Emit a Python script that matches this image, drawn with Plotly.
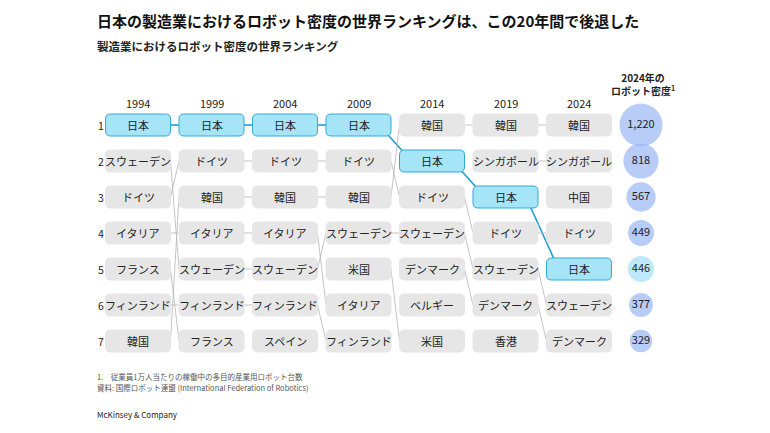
import plotly.graph_objects as go
import math

years = ["1994", "1999", "2004", "2009", "2014", "2019", "2024"]
rankings = [
    ["日本", "スウェーデン", "ドイツ", "イタリア", "フランス", "フィンランド", "韓国"],
    ["日本", "ドイツ", "韓国", "イタリア", "スウェーデン", "フィンランド", "フランス"],
    ["日本", "ドイツ", "韓国", "イタリア", "スウェーデン", "フィンランド", "スペイン"],
    ["日本", "ドイツ", "韓国", "スウェーデン", "米国", "イタリア", "フィンランド"],
    ["韓国", "日本", "ドイツ", "スウェーデン", "デンマーク", "ベルギー", "米国"],
    ["韓国", "シンガポール", "日本", "ドイツ", "スウェーデン", "デンマーク", "香港"],
    ["韓国", "シンガポール", "中国", "ドイツ", "日本", "スウェーデン", "デンマーク"],
]
density_2024 = [1220, 818, 567, 449, 446, 377, 329]
highlight = "日本"

FONT = "Noto Sans CJK JP"
X0, DX = 138, 73.5
Y0, DY = 125, 36
BW, BH = 65, 22
BX = 641
OFF = 8  # page body margin

def cx(i): return X0 + i * DX
def cy(r): return Y0 + r * DY

def rrect(x0, y0, x1, y1, r=5):
    return (f"M{x0+r},{y0} L{x1-r},{y0} Q{x1},{y0} {x1},{y0+r} L{x1},{y1-r} Q{x1},{y1} {x1-r},{y1} "
            f"L{x0+r},{y1} Q{x0},{y1} {x0},{y1-r} L{x0},{y0+r} Q{x0},{y0} {x0+r},{y0} Z")

shapes, ann = [], []
for i in range(len(years) - 1):
    for r, c in enumerate(rankings[i]):
        if c in rankings[i + 1]:
            r2 = rankings[i + 1].index(c)
            if c == highlight:
                if r2 == r:
                    x_a, x_b = cx(i) + BW / 2, cx(i + 1) - BW / 2
                else:
                    x_a, x_b = cx(i) + BW / 2 - 12, cx(i + 1) - BW / 2 + 12
                shapes.append(dict(type="line", x0=x_a, y0=cy(r), x1=x_b, y1=cy(r2),
                                   line=dict(color="#1aa0d2", width=1.6), layer="below"))
            else:
                shapes.append(dict(type="line", x0=cx(i) + BW / 2, y0=cy(r), x1=cx(i + 1) - BW / 2, y1=cy(r2),
                                   line=dict(color="#b5b5b5", width=0.8), layer="below"))
for i, col in enumerate(rankings):
    ann.append(dict(x=cx(i), y=103, text=years[i], showarrow=False, font=dict(size=11, color="#222")))
    for r, c in enumerate(col):
        hl = c == highlight
        shapes.append(dict(type="path", path=rrect(cx(i) - BW / 2, cy(r) - BH / 2, cx(i) + BW / 2, cy(r) + BH / 2),
                           fillcolor="#a6e4f7" if hl else "#e6e6e6",
                           line=dict(color="#34a9d6" if hl else "#e6e6e6", width=1), layer="above"))
        ann.append(dict(x=cx(i), y=cy(r), text=c, showarrow=False, font=dict(size=11, color="#222")))
for r in range(7):
    ann.append(dict(x=101, y=cy(r), text=str(r + 1), showarrow=False, font=dict(size=10.5, color="#222")))

sizes = [43 * math.sqrt(v / density_2024[0]) for v in density_2024]
colors = ["#a3e0f8" if rankings[-1][r] == highlight else "#98b8f5" for r in range(7)]
bubbles = go.Scatter(x=[BX] * 7, y=[cy(r) for r in range(7)], mode="markers+text",
                     marker=dict(size=sizes, color=colors, line=dict(width=0)),
                     text=[f"{v:,}" for v in density_2024], textposition="middle center",
                     textfont=dict(size=11, color="#222", family=FONT), hoverinfo="skip")

ann += [
    dict(x=95, y=20, xanchor="left", text="<b>日本の製造業におけるロボット密度の世界ランキングは、この20年間で後退した</b>",
         showarrow=False, font=dict(size=15, color="#111")),
    dict(x=95, y=46, xanchor="left", text="<b>製造業におけるロボット密度の世界ランキング</b>",
         showarrow=False, font=dict(size=11.5, color="#222")),
    dict(x=643, y=84, text="<b>2024年の<br>ロボット密度<sup>1</sup></b>", showarrow=False,
         font=dict(size=10, color="#222")),
    dict(x=95, y=376, xanchor="left", text="1.　従業員1万人当たりの稼働中の多目的産業用ロボット台数",
         showarrow=False, font=dict(size=7.5, color="#555")),
    dict(x=95, y=387, xanchor="left", text="資料: 国際ロボット連盟 (International Federation of Robotics)",
         showarrow=False, font=dict(size=7.5, color="#555")),
    dict(x=95, y=414, xanchor="left", text="McKinsey & Company",
         showarrow=False, font=dict(size=8, color="#222")),
]

fig = go.Figure(bubbles)
fig.update_layout(width=770, height=433, margin=dict(l=0, r=0, t=0, b=0),
                  paper_bgcolor="white", plot_bgcolor="white", showlegend=False,
                  font=dict(family=FONT),
                  xaxis=dict(range=[OFF, 770 + OFF], visible=False, fixedrange=True),
                  yaxis=dict(range=[433 + OFF, OFF], visible=False, fixedrange=True),
                  shapes=shapes, annotations=ann)
fig.write_html("out.html")
